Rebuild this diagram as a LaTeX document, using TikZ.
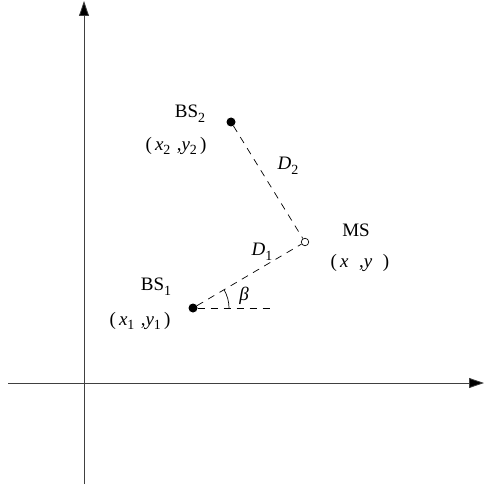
\documentclass[tikz,border=0pt]{standalone}
\usepackage{fontspec}
\setmainfont{Liberation Serif}
\usetikzlibrary{arrows.meta}
\newcommand{\vr}[1]{\textit{#1}}
\newcommand{\sbx}[1]{\raisebox{-0.25em}{\fontsize{14}{16}\selectfont #1}}
\begin{document}
\begin{tikzpicture}[x=1pt,y=-1pt,
  axis/.style={line width=0.8pt,draw=black!75,-{Triangle[length=15pt,width=10pt,fill=black]}},
  dline/.style={line width=0.7pt,dash pattern=on 7pt off 6pt},
  lbl/.style={font=\fontsize{19}{22}\selectfont,inner sep=0pt},
  dot/.style={circle,fill=black,inner sep=0pt,minimum size=9pt},
  ring/.style={circle,draw=black,line width=0.7pt,inner sep=0pt,minimum size=7.5pt}]
\useasboundingbox (0,0) rectangle (485,486);
\coordinate (yb) at (84,484);
\coordinate (yt) at (84,1);
\coordinate (xl) at (8,383);
\coordinate (xr) at (484,383);
\draw[axis] (yb) -- (yt);
\draw[axis] (xl) -- (xr);
\node[dot] (bs2) at (231,122) {};
\node[dot] (bs1) at (193,308) {};
\node[ring] (ms) at (305,242) {};
\coordinate (h) at (273,308);
\draw[dline] (bs2) -- (ms);
\draw[dline] (bs1) -- (ms);
\draw[dline] (bs1) -- (h);
\draw[line width=0.7pt] ([shift={(0:36)}]bs1.center) arc[start angle=0,end angle=-30.5,radius=36];
\node[lbl] (lb2) at (190,114) {BS\sbx{2}};
\node[lbl] (lc2) at (176,146) {(\,\vr{x}\sbx{2}\,\,,\vr{y}\sbx{2}\,)};
\node[lbl] (lb1) at (156,287) {BS\sbx{1}};
\node[lbl] (lc1) at (140,321) {(\,\vr{x}\sbx{1}\,\,,\vr{y}\sbx{1}\,)};
\node[lbl] (lms) at (356,230) {MS};
\node[lbl] (lcm) at (360,263) {(\,\vr{x}\;\;,\vr{y}\;\;)};
\node[lbl] (ld2) at (288,166) {\vr{D}\sbx{2}};
\node[lbl] (ld1) at (262,252) {\vr{D}\sbx{1}};
\node[lbl] (lbeta) at (244,296) {\vr{β}};
\end{tikzpicture}
\end{document}
